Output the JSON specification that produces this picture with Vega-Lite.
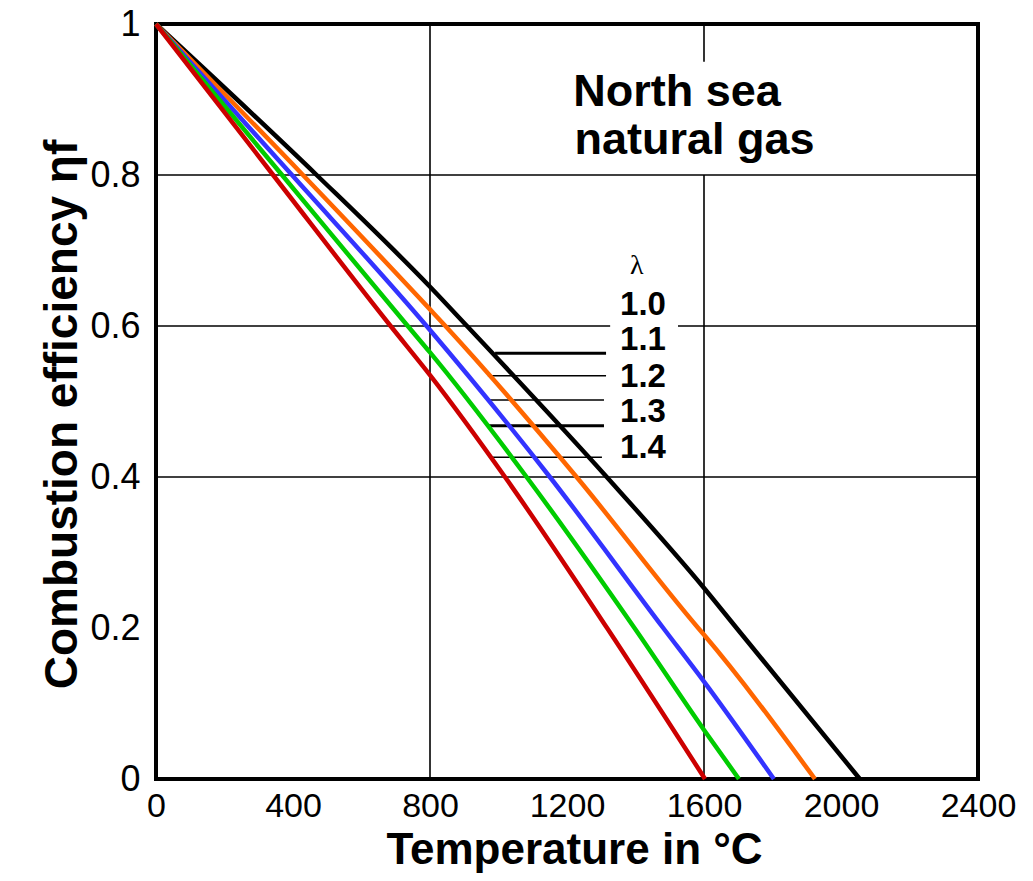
{
  "$schema": "https://vega.github.io/schema/vega-lite/v6.json",
  "width": 822,
  "height": 755,
  "autosize": "none",
  "padding": {"left": 156, "top": 24, "right": 55, "bottom": 102},
  "background": "white",
  "config": {
    "view": {"stroke": "black", "strokeWidth": 4},
    "font": "Liberation Sans"
  },
  "datasets": {
    "curves": [
      {"T": 0, "eta": 1, "lambda": "1.0"},
      {"T": 469, "eta": 0.8, "lambda": "1.0"},
      {"T": 800, "eta": 0.652, "lambda": "1.0"},
      {"T": 908, "eta": 0.6, "lambda": "1.0"},
      {"T": 1316, "eta": 0.4, "lambda": "1.0"},
      {"T": 1600, "eta": 0.253, "lambda": "1.0"},
      {"T": 1695, "eta": 0.2, "lambda": "1.0"},
      {"T": 2055, "eta": 0, "lambda": "1.0"},
      {"T": 0, "eta": 1, "lambda": "1.1"},
      {"T": 429, "eta": 0.8, "lambda": "1.1"},
      {"T": 800, "eta": 0.622, "lambda": "1.1"},
      {"T": 845, "eta": 0.6, "lambda": "1.1"},
      {"T": 1228, "eta": 0.4, "lambda": "1.1"},
      {"T": 1583, "eta": 0.2, "lambda": "1.1"},
      {"T": 1600, "eta": 0.191, "lambda": "1.1"},
      {"T": 1924, "eta": 0, "lambda": "1.1"},
      {"T": 0, "eta": 1, "lambda": "1.2"},
      {"T": 397, "eta": 0.8, "lambda": "1.2"},
      {"T": 790, "eta": 0.6, "lambda": "1.2"},
      {"T": 1150, "eta": 0.4, "lambda": "1.2"},
      {"T": 1481, "eta": 0.2, "lambda": "1.2"},
      {"T": 1600, "eta": 0.129, "lambda": "1.2"},
      {"T": 1804, "eta": 0, "lambda": "1.2"},
      {"T": 0, "eta": 1, "lambda": "1.3"},
      {"T": 368, "eta": 0.8, "lambda": "1.3"},
      {"T": 735, "eta": 0.6, "lambda": "1.3"},
      {"T": 800, "eta": 0.565, "lambda": "1.3"},
      {"T": 1082, "eta": 0.4, "lambda": "1.3"},
      {"T": 1397, "eta": 0.2, "lambda": "1.3"},
      {"T": 1600, "eta": 0.065, "lambda": "1.3"},
      {"T": 1702, "eta": 0, "lambda": "1.3"},
      {"T": 0, "eta": 1, "lambda": "1.4"},
      {"T": 342, "eta": 0.8, "lambda": "1.4"},
      {"T": 685, "eta": 0.6, "lambda": "1.4"},
      {"T": 800, "eta": 0.535, "lambda": "1.4"},
      {"T": 1019, "eta": 0.4, "lambda": "1.4"},
      {"T": 1317, "eta": 0.2, "lambda": "1.4"},
      {"T": 1603, "eta": 0, "lambda": "1.4"}
    ],
    "grid": [
      {"x": 800, "x2": 800, "y": 0, "y2": 1},
      {"x": 1600, "x2": 1600, "y": 0, "y2": 0.8},
      {"x": 1600, "x2": 1600, "y": 0.95, "y2": 1},
      {"x": 0, "x2": 2400, "y": 0.8, "y2": 0.8},
      {"x": 0, "x2": 1326, "y": 0.6, "y2": 0.6},
      {"x": 1524, "x2": 2400, "y": 0.6, "y2": 0.6},
      {"x": 0, "x2": 2400, "y": 0.4, "y2": 0.4}
    ],
    "leadersThick": [
      {"x": 990, "x2": 1314, "y": 0.564},
      {"x": 969, "x2": 1308, "y": 0.468}
    ],
    "leadersThin": [
      {"x": 969, "x2": 1314, "y": 0.534},
      {"x": 975, "x2": 1308, "y": 0.502},
      {"x": 975, "x2": 1302, "y": 0.426}
    ],
    "lamLabels": [
      {"T": 1422, "eta": 0.628, "text": "1.0"},
      {"T": 1422, "eta": 0.581, "text": "1.1"},
      {"T": 1422, "eta": 0.532, "text": "1.2"},
      {"T": 1422, "eta": 0.486, "text": "1.3"},
      {"T": 1422, "eta": 0.439, "text": "1.4"}
    ],
    "lamHead": [{"T": 1404, "eta": 0.679, "text": "λ"}],
    "title": [
      {"T": 1218, "eta": 0.891, "text": "North sea"},
      {"T": 1222, "eta": 0.828, "text": "natural gas"}
    ]
  },
  "layer": [
    {
      "data": {"name": "grid"},
      "mark": {"type": "rule", "color": "black", "strokeWidth": 1.6},
      "encoding": {
        "x": {"field": "x", "type": "quantitative", "scale": {"domain": [0, 2400], "nice": false},
          "axis": {"values": [0, 400, 800, 1200, 1600, 2000, 2400], "format": "d", "grid": false, "ticks": false, "domain": false,
            "labelFontSize": 34, "labelColor": "black", "labelPadding": 10, "labelFlush": false, "labelOverlap": false,
            "title": "Temperature in °C", "titleFontSize": 44, "titleFontWeight": "bold", "titleColor": "black",
            "titleBaseline": "alphabetic", "titleX": 418, "titleY": 84, "titleAnchor": "middle", "titleAlign": "center"}},
        "x2": {"field": "x2"},
        "y": {"field": "y", "type": "quantitative", "scale": {"domain": [0, 1], "nice": false},
          "axis": {"values": [0, 0.2, 0.4, 0.6, 0.8, 1], "format": "~g", "grid": false, "ticks": false, "domain": false,
            "labelFontSize": 36, "labelColor": "black", "labelPadding": 16, "labelFlush": false, "labelOverlap": false,
            "title": "Combustion efficiency ηf", "titleFontSize": 46, "titleFontWeight": "bold", "titleColor": "black",
            "titleBaseline": "alphabetic", "titleAngle": -90, "titleX": -80, "titleY": 390, "titleAlign": "center"}},
        "y2": {"field": "y2"}
      }
    },
    {
      "data": {"name": "leadersThin"},
      "mark": {"type": "rule", "color": "black", "strokeWidth": 1.5},
      "encoding": {
        "x": {"field": "x", "type": "quantitative"},
        "x2": {"field": "x2"},
        "y": {"field": "y", "type": "quantitative"}
      }
    },
    {
      "data": {"name": "leadersThick"},
      "mark": {"type": "rule", "color": "black", "strokeWidth": 3},
      "encoding": {
        "x": {"field": "x", "type": "quantitative"},
        "x2": {"field": "x2"},
        "y": {"field": "y", "type": "quantitative"}
      }
    },
    {
      "data": {"name": "curves"},
      "mark": {"type": "line", "strokeWidth": 4.5, "interpolate": "monotone"},
      "encoding": {
        "x": {"field": "T", "type": "quantitative"},
        "y": {"field": "eta", "type": "quantitative"},
        "color": {"field": "lambda", "type": "nominal",
          "scale": {"domain": ["1.0", "1.1", "1.2", "1.3", "1.4"], "range": ["#000000", "#ff6600", "#3333ff", "#00cc00", "#cc0000"]},
          "legend": null},
        "order": {"field": "lambda", "sort": "ascending"}
      }
    },
    {
      "data": {"name": "lamLabels"},
      "mark": {"type": "text", "fontSize": 33, "fontWeight": "bold", "align": "center", "baseline": "middle", "color": "black"},
      "encoding": {
        "x": {"field": "T", "type": "quantitative"},
        "y": {"field": "eta", "type": "quantitative"},
        "text": {"field": "text"}
      }
    },
    {
      "data": {"name": "lamHead"},
      "mark": {"type": "text", "fontSize": 28, "font": "Liberation Serif", "align": "center", "baseline": "middle", "color": "black"},
      "encoding": {
        "x": {"field": "T", "type": "quantitative"},
        "y": {"field": "eta", "type": "quantitative"},
        "text": {"field": "text"}
      }
    },
    {
      "data": {"name": "title"},
      "mark": {"type": "text", "fontSize": 45, "fontWeight": "bold", "align": "left", "baseline": "alphabetic", "color": "black"},
      "encoding": {
        "x": {"field": "T", "type": "quantitative"},
        "y": {"field": "eta", "type": "quantitative"},
        "text": {"field": "text"}
      }
    }
  ]
}
